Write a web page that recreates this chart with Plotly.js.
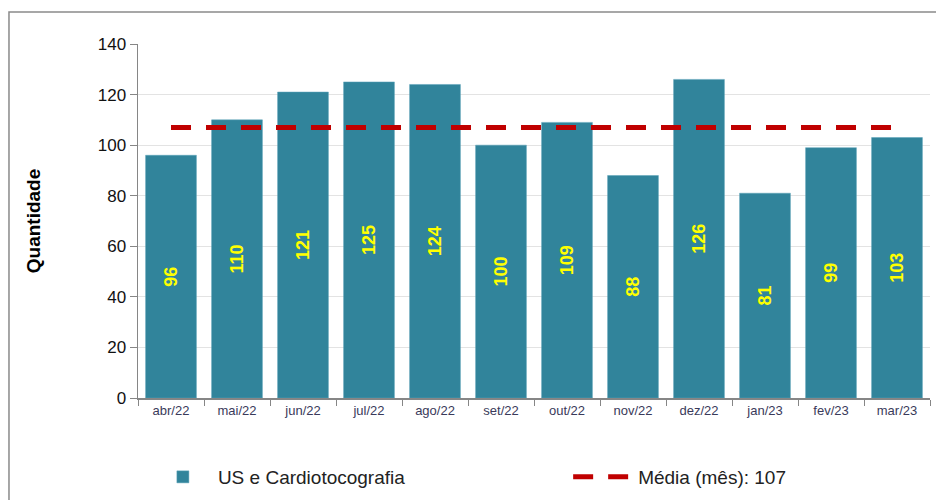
<!DOCTYPE html>
<html>
<head>
<meta charset="utf-8">
<script src="https://cdn.plot.ly/plotly-3.0.1.min.js"></script>
<style>html,body{margin:0;padding:0;background:#fff;}#chart{width:936px;height:500px;}</style>
</head>
<body>
<div id="chart"></div>
<script>
const months = ["abr/22","mai/22","jun/22","jul/22","ago/22","set/22","out/22","nov/22","dez/22","jan/23","fev/23","mar/23"];
const quantidade = [96,110,121,125,124,100,109,88,126,81,99,103];
const media = [107,107,107,107,107,107,107,107,107,107,107,107];
const barName = "US e Cardiotocografia";
const meanName = "Média (mês): 107";

const bars = {
  type: "bar",
  x: months,
  y: quantidade,
  name: barName,
  legend: "legend",
  marker: {color: "#31849B", line: {color: "#5aa3b8", width: 0.5}},
  text: quantidade.map(String),
  textposition: "inside",
  insidetextanchor: "middle",
  textangle: -90,
  textfont: {family: "Liberation Sans, Arial, sans-serif", size: 18, color: "#FFFF00", weight: "bold"},
  hoverinfo: "x+y"
};
const mean = {
  type: "scatter",
  mode: "lines",
  x: months,
  y: media,
  name: meanName,
  legend: "legend2",
  line: {color: "#C00000", width: 5, dash: "20px,15px"}
};

const legendFont = {family: "Liberation Sans, Arial, sans-serif", size: 19, color: "#222"};

const layout = {
  width: 936, height: 500,
  margin: {l: 138, r: 6, t: 44, b: 102, autoexpand: false},
  paper_bgcolor: "#ffffff",
  plot_bgcolor: "#ffffff",
  bargap: 0.23,
  showlegend: true,
  legend: {
    orientation: "h",
    xref: "container", yref: "container",
    x: 0.158, xanchor: "left",
    y: 0.046, yanchor: "middle",
    font: legendFont,
    itemwidth: 60,
    bgcolor: "rgba(0,0,0,0)"
  },
  legend2: {
    orientation: "h",
    xref: "container", yref: "container",
    x: 0.607, xanchor: "left",
    y: 0.046, yanchor: "middle",
    font: legendFont,
    itemwidth: 60,
    bgcolor: "rgba(0,0,0,0)"
  },
  xaxis: {
    type: "category",
    showline: true, linecolor: "#868686", linewidth: 1.5,
    ticks: "outside", tickson: "boundaries", ticklen: 6, tickcolor: "#868686",
    tickfont: {family: "Liberation Sans, Arial, sans-serif", size: 13, color: "#3a3a5a"},
    showgrid: false,
    automargin: false,
    fixedrange: true
  },
  yaxis: {
    range: [0, 140], dtick: 20,
    showline: true, linecolor: "#868686", linewidth: 1.5,
    ticks: "outside", ticklen: 7, tickcolor: "#868686",
    tickfont: {family: "Liberation Sans, Arial, sans-serif", size: 17, color: "#111"},
    gridcolor: "#e3e3e3", gridwidth: 1,
    zeroline: false,
    automargin: false,
    title: {text: "<b>Quantidade</b>", font: {family: "Liberation Sans, Arial, sans-serif", size: 19, color: "#000"}, standoff: 52},
    fixedrange: true
  },
  shapes: [{
    type: "rect", xref: "paper", yref: "paper",
    x0: -0.1629, x1: 1.02, y0: -0.35, y1: 1.0904,
    line: {color: "#8a8a8a", width: 1.5},
    fillcolor: "rgba(0,0,0,0)",
    layer: "below"
  }]
};

Plotly.newPlot("chart", [bars, mean], layout, {displayModeBar: false, staticPlot: true});
</script>
</body>
</html>
